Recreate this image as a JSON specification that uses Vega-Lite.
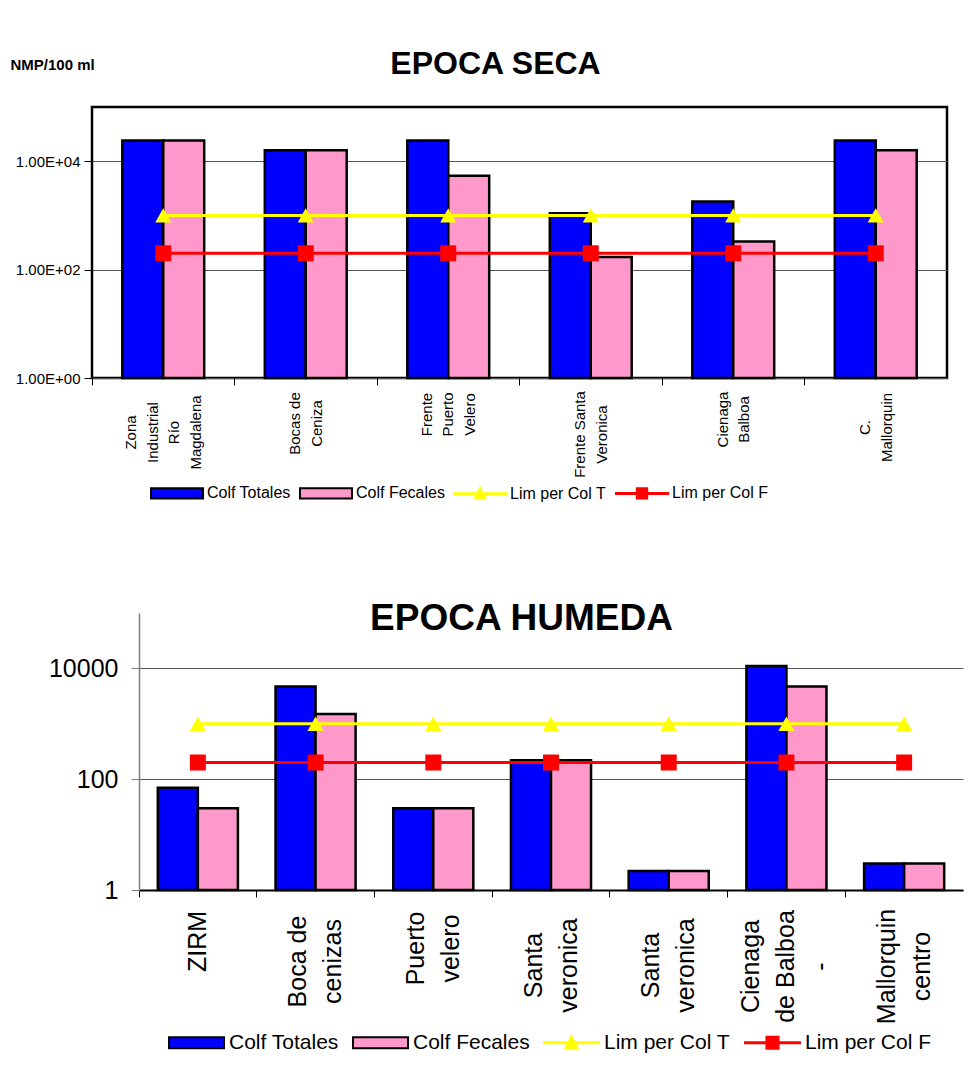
{
  "$schema": "https://vega.github.io/schema/vega-lite/v6.json",
  "padding": {"left": 3, "top": 46, "right": 5, "bottom": 5},
  "background": "white",
  "spacing": 95,
  "config": {"font": "Liberation Sans", "view": {"stroke": null}},
  "datasets": {
    "seca": [
      {"sitio": "Zona|Industrial|Río|Magdalena", "serie": "Colf Totales", "valor": 24000},
      {"sitio": "Zona|Industrial|Río|Magdalena", "serie": "Colf Fecales", "valor": 24000},
      {"sitio": "Bocas de|Ceniza", "serie": "Colf Totales", "valor": 16000},
      {"sitio": "Bocas de|Ceniza", "serie": "Colf Fecales", "valor": 16000},
      {"sitio": "Frente|Puerto|Velero", "serie": "Colf Totales", "valor": 24000},
      {"sitio": "Frente|Puerto|Velero", "serie": "Colf Fecales", "valor": 5400},
      {"sitio": "Frente Santa|Veronica", "serie": "Colf Totales", "valor": 1100},
      {"sitio": "Frente Santa|Veronica", "serie": "Colf Fecales", "valor": 170},
      {"sitio": "Cienaga|Balboa", "serie": "Colf Totales", "valor": 1800},
      {"sitio": "Cienaga|Balboa", "serie": "Colf Fecales", "valor": 330},
      {"sitio": "C.|Mallorquin", "serie": "Colf Totales", "valor": 24000},
      {"sitio": "C.|Mallorquin", "serie": "Colf Fecales", "valor": 16000},
      {"sitio": "Zona|Industrial|Río|Magdalena", "serie": "Lim per Col T", "valor": 1000},
      {"sitio": "Bocas de|Ceniza", "serie": "Lim per Col T", "valor": 1000},
      {"sitio": "Frente|Puerto|Velero", "serie": "Lim per Col T", "valor": 1000},
      {"sitio": "Frente Santa|Veronica", "serie": "Lim per Col T", "valor": 1000},
      {"sitio": "Cienaga|Balboa", "serie": "Lim per Col T", "valor": 1000},
      {"sitio": "C.|Mallorquin", "serie": "Lim per Col T", "valor": 1000},
      {"sitio": "Zona|Industrial|Río|Magdalena", "serie": "Lim per Col F", "valor": 200},
      {"sitio": "Bocas de|Ceniza", "serie": "Lim per Col F", "valor": 200},
      {"sitio": "Frente|Puerto|Velero", "serie": "Lim per Col F", "valor": 200},
      {"sitio": "Frente Santa|Veronica", "serie": "Lim per Col F", "valor": 200},
      {"sitio": "Cienaga|Balboa", "serie": "Lim per Col F", "valor": 200},
      {"sitio": "C.|Mallorquin", "serie": "Lim per Col F", "valor": 200}
    ],
    "humeda": [
      {"sitio": "ZIRM", "serie": "Colf Totales", "valor": 70},
      {"sitio": "ZIRM", "serie": "Colf Fecales", "valor": 30},
      {"sitio": "Boca de|cenizas", "serie": "Colf Totales", "valor": 4700},
      {"sitio": "Boca de|cenizas", "serie": "Colf Fecales", "valor": 1500},
      {"sitio": "Puerto|velero", "serie": "Colf Totales", "valor": 30},
      {"sitio": "Puerto|velero", "serie": "Colf Fecales", "valor": 30},
      {"sitio": "Santa|veronica", "serie": "Colf Totales", "valor": 220},
      {"sitio": "Santa|veronica", "serie": "Colf Fecales", "valor": 220},
      {"sitio": "Santa|veronica\u200b", "serie": "Colf Totales", "valor": 2.2},
      {"sitio": "Santa|veronica\u200b", "serie": "Colf Fecales", "valor": 2.2},
      {"sitio": "Cienaga|de Balboa|-", "serie": "Colf Totales", "valor": 11000},
      {"sitio": "Cienaga|de Balboa|-", "serie": "Colf Fecales", "valor": 4700},
      {"sitio": "Mallorquin|centro", "serie": "Colf Totales", "valor": 3},
      {"sitio": "Mallorquin|centro", "serie": "Colf Fecales", "valor": 3},
      {"sitio": "ZIRM", "serie": "Lim per Col T", "valor": 1000},
      {"sitio": "Boca de|cenizas", "serie": "Lim per Col T", "valor": 1000},
      {"sitio": "Puerto|velero", "serie": "Lim per Col T", "valor": 1000},
      {"sitio": "Santa|veronica", "serie": "Lim per Col T", "valor": 1000},
      {"sitio": "Santa|veronica\u200b", "serie": "Lim per Col T", "valor": 1000},
      {"sitio": "Cienaga|de Balboa|-", "serie": "Lim per Col T", "valor": 1000},
      {"sitio": "Mallorquin|centro", "serie": "Lim per Col T", "valor": 1000},
      {"sitio": "ZIRM", "serie": "Lim per Col F", "valor": 200},
      {"sitio": "Boca de|cenizas", "serie": "Lim per Col F", "valor": 200},
      {"sitio": "Puerto|velero", "serie": "Lim per Col F", "valor": 200},
      {"sitio": "Santa|veronica", "serie": "Lim per Col F", "valor": 200},
      {"sitio": "Santa|veronica\u200b", "serie": "Lim per Col F", "valor": 200},
      {"sitio": "Cienaga|de Balboa|-", "serie": "Lim per Col F", "valor": 200},
      {"sitio": "Mallorquin|centro", "serie": "Lim per Col F", "valor": 200}
    ],
    "leyenda": [
      {"serie": "Colf Totales", "valor": null},
      {"serie": "Colf Fecales", "valor": null},
      {"serie": "Lim per Col T", "valor": null},
      {"serie": "Lim per Col F", "valor": null}
    ]
  },
  "resolve": {
    "scale": {"x": "independent", "y": "independent", "fill": "independent", "stroke": "independent", "shape": "independent", "xOffset": "independent"},
    "legend": {"fill": "independent", "stroke": "independent", "shape": "independent"}
  },
  "vconcat": [
    {
      "width": 855,
      "height": 271,
      "view": {"stroke": "black", "strokeWidth": 2.5},
      "title": {"text": "EPOCA SECA", "font": "Liberation Sans", "fontSize": 32, "fontWeight": "bold", "color": "black", "anchor": "middle", "dx": -24, "offset": -24},
      "layer": [
        {
          "data": {"name": "seca"},
          "transform": [{"filter": "datum.serie == 'Colf Totales' || datum.serie == 'Colf Fecales'"}],
          "mark": {"type": "bar", "strokeWidth": 2.5, "opacity": 1},
          "encoding": {
            "x": {"field": "sitio", "type": "nominal", "sort": null,
              "scale": {"paddingInner": 0, "paddingOuter": 0},
              "axis": {"title": null, "bandPosition": 0, "labelAngle": -90, "labelAlign": "center", "labelBaseline": "middle",
                "labelExpr": "split(datum.label, '|')", "labelLineHeight": 21.5, "labelFontSize": 15, "labelFont": "Liberation Sans", "labelColor": "black",
                "labelOffset": {"condition": [
                  {"test": "length(split(datum.value, '|')) == 4", "value": -32.25},
                  {"test": "length(split(datum.value, '|')) == 3", "value": -21.5},
                  {"test": "length(split(datum.value, '|')) == 2", "value": -10.75}], "value": 0},
                "labelPadding": {"condition": [
                  {"test": "indexof(datum.value, 'Zona') >= 0", "value": 47},
                  {"test": "indexof(datum.value, 'Bocas') >= 0", "value": 38},
                  {"test": "indexof(datum.value, 'Puerto') >= 0", "value": 29},
                  {"test": "indexof(datum.value, 'Santa') >= 0", "value": 49},
                  {"test": "indexof(datum.value, 'Cienaga') >= 0", "value": 34}], "value": 42},
                "tickSize": 7, "tickColor": "black", "tickWidth": 1, "domain": false, "grid": false, "labelOverlap": false, "labelBound": false, "labelLimit": 0}},
            "xOffset": {"field": "serie", "sort": null, "scale": {"domain": ["Colf Totales", "Colf Fecales"], "paddingInner": 0, "paddingOuter": 0.74}},
            "y": {"field": "valor", "type": "quantitative", "stack": null,
              "scale": {"type": "log", "domain": [1, 100000], "nice": false},
              "axis": {"title": "NMP/100 ml", "titleAngle": 0, "titleX": -82, "titleY": -43, "titleAlign": "left", "titleBaseline": "middle", "titleFont": "Liberation Sans", "titleFontSize": 15, "titleFontWeight": "bold", "titleColor": "black",
                "values": [1, 100, 10000], "labelExpr": "datum.value == 1 ? '1.00E+00' : datum.value == 100 ? '1.00E+02' : '1.00E+04'",
                "labelFontSize": 15, "labelFont": "Liberation Sans", "labelColor": "black", "tickSize": 8, "tickColor": "black", "labelPadding": 4,
                "domain": false, "grid": true, "gridColor": "#555555", "gridWidth": 1, "minExtent": 87, "maxExtent": 87}},
            "y2": {"datum": 1},
            "fill": {"field": "serie", "type": "nominal",
              "scale": {"domain": ["Colf Totales", "Colf Fecales", "Lim per Col T", "Lim per Col F"], "range": ["#0000FF", "#FF99CC", "#FFFF00", "#FF0000"]}},
            "stroke": {"field": "serie", "type": "nominal",
              "scale": {"domain": ["Colf Totales", "Colf Fecales", "Lim per Col T", "Lim per Col F"], "range": ["#000000", "#000000", "#FFFF00", "#FF0000"]}}
          }
        },
        {
          "data": {"name": "seca"},
          "transform": [{"filter": "datum.serie == 'Lim per Col T' || datum.serie == 'Lim per Col F'"}],
          "mark": {"type": "line", "strokeWidth": 3},
          "encoding": {
            "x": {"field": "sitio", "type": "nominal", "sort": null},
            "y": {"field": "valor", "type": "quantitative"},
            "stroke": {"field": "serie", "type": "nominal"}
          }
        },
        {
          "data": {"name": "seca"},
          "transform": [{"filter": "datum.serie == 'Lim per Col T'"}],
          "mark": {"type": "point", "filled": true, "opacity": 1, "size": 256, "shape": "M0,-0.9L-1,0.9L1,0.9Z", "strokeWidth": 0},
          "encoding": {
            "x": {"field": "sitio", "type": "nominal", "sort": null},
            "y": {"field": "valor", "type": "quantitative"},
            "fill": {"field": "serie", "type": "nominal"}
          }
        },
        {
          "data": {"name": "seca"},
          "transform": [{"filter": "datum.serie == 'Lim per Col F'"}],
          "mark": {"type": "point", "filled": true, "opacity": 1, "size": 256, "shape": "square", "strokeWidth": 0},
          "encoding": {
            "x": {"field": "sitio", "type": "nominal", "sort": null},
            "y": {"field": "valor", "type": "quantitative"},
            "fill": {"field": "serie", "type": "nominal"}
          }
        },
        {
          "data": {"name": "leyenda"},
          "mark": {"type": "point", "filled": true, "opacity": 1, "strokeWidth": 2},
          "encoding": {
            "y": {"field": "valor", "type": "quantitative"},
            "fill": {"field": "serie", "type": "nominal",
              "legend": {"title": null, "orient": "none", "legendX": 58, "legendY": 359, "direction": "horizontal", "symbolSize": 2704, "symbolStrokeWidth": 2, "labelFont": "Liberation Sans", "labelFontSize": 16, "labelColor": "black", "labelOffset": 3, "columnPadding": 5, "padding": 0, "symbolOpacity": 1, "labelLimit": 0}},
            "stroke": {"field": "serie", "type": "nominal",
              "legend": {"title": null, "orient": "none", "legendX": 58, "legendY": 359, "direction": "horizontal", "symbolSize": 2704, "symbolStrokeWidth": 2, "labelFont": "Liberation Sans", "labelFontSize": 16, "labelColor": "black", "labelOffset": 3, "columnPadding": 5, "padding": 0, "symbolOpacity": 1, "labelLimit": 0}},
            "shape": {"field": "serie", "type": "nominal",
              "scale": {"domain": ["Colf Totales", "Colf Fecales", "Lim per Col T", "Lim per Col F"],
                "range": ["M-1,-0.2H1V0.2H-1Z", "M-1,-0.2H1V0.2H-1Z", "M-1,-0.02H1V0.02H-1Z M-0.2,0.18L0,-0.22L0.2,0.18Z", "M-1,-0.02H1V0.02H-1Z M-0.2,-0.2H0.2V0.2H-0.2Z"]},
              "legend": {"title": null, "orient": "none", "legendX": 58, "legendY": 359, "direction": "horizontal", "symbolSize": 2704, "symbolStrokeWidth": 2, "labelFont": "Liberation Sans", "labelFontSize": 16, "labelColor": "black", "labelOffset": 3, "columnPadding": 5, "padding": 0, "symbolOpacity": 1, "labelLimit": 0}}
          }
        }
      ]
    },
    {
      "width": 871,
      "height": 277,
      "title": {"text": "EPOCA HUMEDA", "font": "Liberation Sans", "fontSize": 37, "fontWeight": "bold", "color": "black", "anchor": "middle", "dx": -6, "offset": -25},
      "layer": [
        {
          "data": {"name": "humeda"},
          "transform": [{"filter": "datum.serie == 'Colf Totales' || datum.serie == 'Colf Fecales'"}],
          "mark": {"type": "bar", "strokeWidth": 2.5, "opacity": 1},
          "encoding": {
            "x": {"field": "sitio", "type": "nominal", "sort": null,
              "scale": {"paddingInner": 0, "paddingOuter": 0, "range": [47, 871]},
              "axis": {"title": null, "bandPosition": 0, "labelAngle": -90, "labelAlign": "center", "labelBaseline": "middle",
                "labelExpr": "split(datum.label, '|')", "labelLineHeight": 35, "labelFontSize": 25, "labelFont": "Liberation Sans", "labelColor": "black",
                "labelOffset": {"condition": [
                  {"test": "length(split(datum.value, '|')) == 3", "value": -35},
                  {"test": "length(split(datum.value, '|')) == 2", "value": -17.5}], "value": 0},
                "labelPadding": {"condition": [
                  {"test": "datum.value == 'ZIRM'", "value": 44},
                  {"test": "indexof(datum.value, 'Boca') >= 0", "value": 64},
                  {"test": "indexof(datum.value, 'Puerto') >= 0", "value": 51},
                  {"test": "indexof(datum.value, 'Santa') >= 0", "value": 68}], "value": 69},
                "tickSize": 7, "tickColor": "black", "tickWidth": 1, "domain": true, "domainColor": "black", "domainWidth": 2, "grid": false, "labelOverlap": false, "labelBound": false, "labelLimit": 0}},
            "xOffset": {"field": "serie", "sort": null, "scale": {"domain": ["Colf Totales", "Colf Fecales"], "paddingInner": 0, "paddingOuter": 0.47}},
            "y": {"field": "valor", "type": "quantitative", "stack": null,
              "scale": {"type": "log", "domain": [1, 100000], "nice": false},
              "axis": {"title": null, "values": [1, 100, 10000], "format": "d", "offset": -47,
                "labelFontSize": 25, "labelFont": "Liberation Sans", "labelColor": "black", "tickSize": 8, "tickColor": "#808080", "labelPadding": 13,
                "domain": true, "domainColor": "#808080", "domainWidth": 1.5, "grid": true, "gridColor": "#555555", "gridWidth": 1}},
            "y2": {"datum": 1},
            "fill": {"field": "serie", "type": "nominal",
              "scale": {"domain": ["Colf Totales", "Colf Fecales", "Lim per Col T", "Lim per Col F"], "range": ["#0000FF", "#FF99CC", "#FFFF00", "#FF0000"]}},
            "stroke": {"field": "serie", "type": "nominal",
              "scale": {"domain": ["Colf Totales", "Colf Fecales", "Lim per Col T", "Lim per Col F"], "range": ["#000000", "#000000", "#FFFF00", "#FF0000"]}}
          }
        },
        {
          "data": {"name": "humeda"},
          "transform": [{"filter": "datum.serie == 'Lim per Col T' || datum.serie == 'Lim per Col F'"}],
          "mark": {"type": "line", "strokeWidth": 3},
          "encoding": {
            "x": {"field": "sitio", "type": "nominal", "sort": null},
            "y": {"field": "valor", "type": "quantitative"},
            "stroke": {"field": "serie", "type": "nominal"}
          }
        },
        {
          "data": {"name": "humeda"},
          "transform": [{"filter": "datum.serie == 'Lim per Col T'"}],
          "mark": {"type": "point", "filled": true, "opacity": 1, "size": 256, "shape": "M0,-0.9L-1,0.9L1,0.9Z", "strokeWidth": 0},
          "encoding": {
            "x": {"field": "sitio", "type": "nominal", "sort": null},
            "y": {"field": "valor", "type": "quantitative"},
            "fill": {"field": "serie", "type": "nominal"}
          }
        },
        {
          "data": {"name": "humeda"},
          "transform": [{"filter": "datum.serie == 'Lim per Col F'"}],
          "mark": {"type": "point", "filled": true, "opacity": 1, "size": 256, "shape": "square", "strokeWidth": 0},
          "encoding": {
            "x": {"field": "sitio", "type": "nominal", "sort": null},
            "y": {"field": "valor", "type": "quantitative"},
            "fill": {"field": "serie", "type": "nominal"}
          }
        },
        {
          "data": {"name": "leyenda"},
          "mark": {"type": "point", "filled": true, "opacity": 1, "strokeWidth": 2},
          "encoding": {
            "y": {"field": "valor", "type": "quantitative"},
            "fill": {"field": "serie", "type": "nominal",
              "legend": {"title": null, "orient": "none", "legendX": 76, "legendY": 401, "direction": "horizontal", "symbolSize": 3025, "symbolStrokeWidth": 2, "labelFont": "Liberation Sans", "labelFontSize": 21, "labelColor": "black", "labelOffset": 4, "columnPadding": 10, "padding": 0, "symbolOpacity": 1, "labelLimit": 0}},
            "stroke": {"field": "serie", "type": "nominal",
              "legend": {"title": null, "orient": "none", "legendX": 76, "legendY": 401, "direction": "horizontal", "symbolSize": 3025, "symbolStrokeWidth": 2, "labelFont": "Liberation Sans", "labelFontSize": 21, "labelColor": "black", "labelOffset": 4, "columnPadding": 10, "padding": 0, "symbolOpacity": 1, "labelLimit": 0}},
            "shape": {"field": "serie", "type": "nominal",
              "scale": {"domain": ["Colf Totales", "Colf Fecales", "Lim per Col T", "Lim per Col F"],
                "range": ["M-1,-0.2H1V0.2H-1Z", "M-1,-0.2H1V0.2H-1Z", "M-1,-0.02H1V0.02H-1Z M-0.22,0.2L0,-0.24L0.22,0.2Z", "M-1,-0.02H1V0.02H-1Z M-0.22,-0.22H0.22V0.22H-0.22Z"]},
              "legend": {"title": null, "orient": "none", "legendX": 76, "legendY": 401, "direction": "horizontal", "symbolSize": 3025, "symbolStrokeWidth": 2, "labelFont": "Liberation Sans", "labelFontSize": 21, "labelColor": "black", "labelOffset": 4, "columnPadding": 10, "padding": 0, "symbolOpacity": 1, "labelLimit": 0}}
          }
        }
      ]
    }
  ]
}
